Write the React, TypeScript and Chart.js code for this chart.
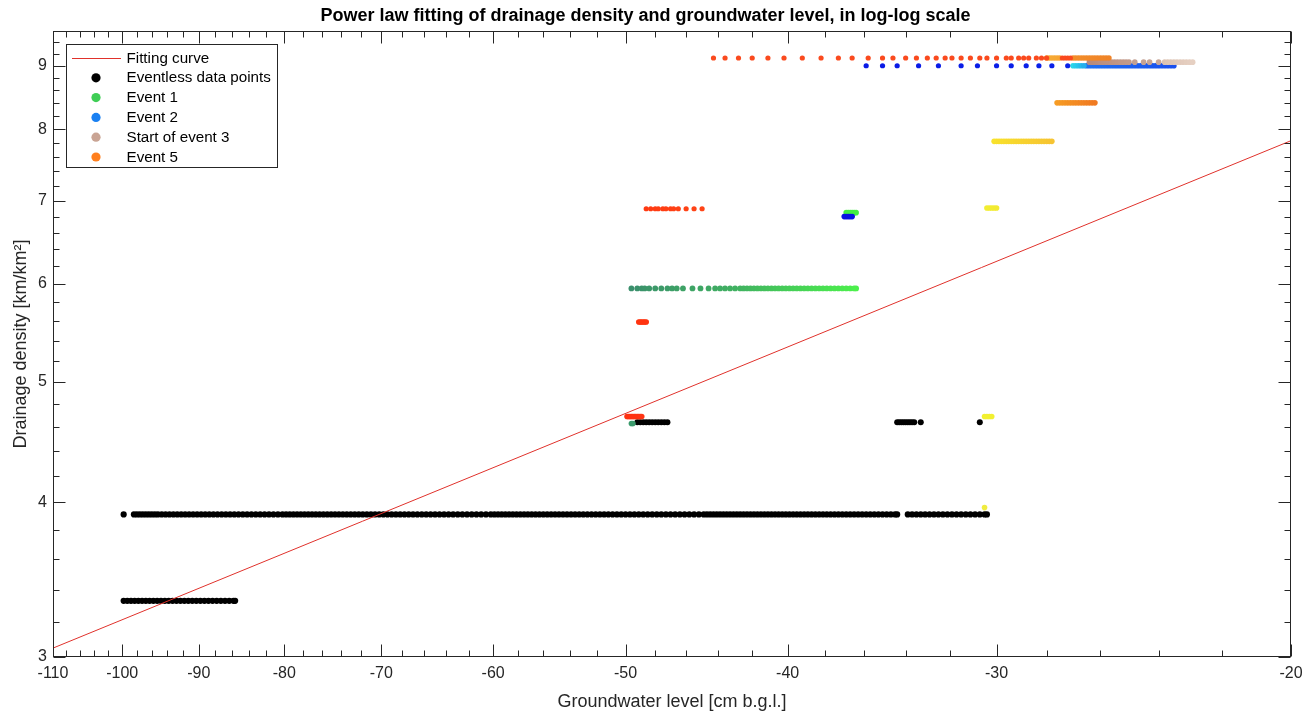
import React, { useEffect, useRef } from 'react';
import { Chart, registerables } from 'chart.js';

Chart.register(...registerables);

// ---------------- text ----------------
const chartTitle = 'Power law fitting of drainage density and groundwater level, in log-log scale';
const xTitle = 'Groundwater level [cm b.g.l.]';
const yTitle = 'Drainage density [km/km\u00B2]';

// ---------------- axis ticks ----------------
const xTickLabels = [-110, -100, -90, -80, -70, -60, -50, -40, -30, -20];
const yTickLabels = [3, 4, 5, 6, 7, 8, 9];

// ---------------- fitting curve ----------------
const fitX = [-110, -20];
const fitY = [3.05, 7.83];

// ---------------- eventless data points ----------------
const eventlessLowY = 3.33;
const eventlessLowX = [-99.8, -99.3, -98.8, -98.3, -97.8, -97.3, -96.8, -96.3, -95.8, -95.3, -94.8, -94.3, -93.8, -93.3,
  -92.8, -92.3, -91.8, -91.3, -90.8, -90.3, -89.8, -89.3, -88.8, -88.3, -87.8, -87.3, -86.8, -86.3, -85.8, -85.6];

const eventlessMidY = 3.91;
const eventlessMidX = [-99.8, -98.4, -98.0, -97.6, -97.2, -96.8, -96.4, -96.0, -95.6, -95.2,
  -94.7, -94.2, -93.7, -93.2, -92.7, -92.2, -91.7, -91.2, -90.7, -90.2, -89.7, -89.2, -88.7, -88.2, -87.7, -87.2,
  -86.7, -86.2, -85.7, -85.2, -84.7, -84.2, -83.7, -83.2, -82.7, -82.2, -81.7, -81.2, -80.7, -80.2,
  -79.8, -79.4, -79.0, -78.6, -78.2, -77.8, -77.4, -77.0, -76.6, -76.2, -75.8, -75.4, -75.0, -74.6, -74.2, -73.8,
  -73.4, -73.0, -72.6, -72.2, -71.8, -71.4, -71.0, -70.6, -70.2, -69.8, -69.4, -69.0, -68.6, -68.2, -67.8, -67.4,
  -67.0, -66.6, -66.2, -65.8, -65.4, -65.0, -64.6, -64.2, -63.8, -63.4, -63.0, -62.6, -62.2, -61.8, -61.4, -61.0,
  -60.6, -60.2, -59.9, -59.6, -59.3, -59.0, -58.7, -58.4, -58.1, -57.8, -57.5, -57.2, -56.9, -56.6, -56.3, -56.0,
  -55.7, -55.4, -55.1, -54.8, -54.5, -54.2, -53.9, -53.6, -53.3, -53.0, -52.7, -52.4, -52.1, -51.8, -51.5, -51.2,
  -50.9, -50.6, -50.3, -50.0, -49.7, -49.4, -49.1, -48.8, -48.5, -48.2, -47.9, -47.6, -47.3, -47.0, -46.7, -46.4,
  -46.1, -45.8, -45.5, -45.2, -44.9, -44.7, -44.5, -44.3, -44.1, -43.9, -43.7, -43.5, -43.3, -43.1, -42.9, -42.7,
  -42.5, -42.3, -42.1, -41.9, -41.7, -41.5, -41.3, -41.1, -40.9, -40.7, -40.5, -40.3, -40.1, -39.9, -39.7, -39.5,
  -39.3, -39.1, -38.9, -38.7, -38.5, -38.3, -38.1, -37.9, -37.7, -37.5, -37.3, -37.1, -36.9, -36.7, -36.5, -36.3,
  -36.1, -35.9, -35.7, -35.5, -35.3, -35.1, -34.9, -34.7, -34.5, -34.4,
  -33.9, -33.7, -33.5, -33.3, -33.1, -32.9, -32.7, -32.5, -32.3, -32.1, -31.9, -31.7, -31.5, -31.3, -31.1, -30.9,
  -30.7, -30.5, -30.4];

const eventlessHighY = 4.64;
const eventlessHighX = [-49.2, -49.0, -48.8, -48.6, -48.4, -48.2, -48.0, -47.8, -47.6, -47.4, -47.2,
  -34.4, -34.3, -34.2, -34.1, -34.0, -33.9, -33.8, -33.7, -33.6, -33.3, -30.7];

// ---------------- event 1 ----------------
const ev1RowY = 5.95;
const ev1RowX = [-49.6, -49.2, -48.9, -48.7, -48.4, -48.0, -47.6, -47.2, -46.9, -46.6, -46.2, -45.6, -45.1, -44.6,
  -44.2, -43.9, -43.6, -43.3, -43.0, -42.7, -42.5, -42.3, -42.1, -41.9, -41.7, -41.5, -41.3, -41.1, -40.9, -40.7,
  -40.5, -40.3, -40.1, -39.9, -39.7, -39.5, -39.3, -39.1, -38.9, -38.7, -38.5, -38.3, -38.1, -37.9, -37.7, -37.5,
  -37.3, -37.1, -36.9, -36.7, -36.5, -36.4];
const ev1LowY = 4.63;
const ev1LowX = [-49.6, -49.5];
const ev1HighY = 6.85;
const ev1HighX = [-36.9, -36.8, -36.7, -36.6, -36.5, -36.4];

// ---------------- event 2 ----------------
const ev2TopY = 9.0;
const ev2TopSparseX = [-35.9, -35.1, -34.4, -33.4, -32.5, -31.5, -30.8, -30.0, -29.4, -28.8, -28.3, -27.8, -27.2];
const ev2TopCyanX = [-27.0, -26.9, -26.8, -26.7, -26.6];
const ev2TopDenseX = [-26.5, -26.4, -26.3, -26.2, -26.1, -26.0, -25.9, -25.8, -25.7, -25.6, -25.5, -25.4, -25.3,
  -25.2, -25.1, -25.0, -24.9, -24.8, -24.7, -24.6, -24.5, -24.4, -24.3, -24.2, -24.1, -24.0, -23.9, -23.8, -23.7,
  -23.6, -23.5];
const ev2MidY = 6.8;
const ev2MidX = [-37.0, -36.9, -36.8, -36.7, -36.6];

// ---------------- start of event 3 ----------------
const ev3Y = 9.06;
const ev3DenseX = [-26.4, -26.3, -26.2, -26.1, -26.0, -25.9, -25.8, -25.7, -25.6, -25.5, -25.4, -25.3, -25.2, -25.1, -25.0];
const ev3DotsX = [-24.8, -24.5, -24.3, -24.0];
const ev3LightX = [-23.8, -23.7, -23.6, -23.5, -23.4, -23.3, -23.2, -23.1, -23.0, -22.9];

// ---------------- event 5 ----------------
const ev5TopY = 9.13;
const ev5TopDotsX = [-44.3, -43.6, -42.8, -42.0, -41.1, -40.2, -39.2, -38.2, -37.3, -36.6, -35.8, -35.1, -34.6, -34.0,
  -33.5, -33.0, -32.6, -32.2, -31.9, -31.5, -31.1, -30.7, -30.4, -30.0, -29.6, -29.4, -29.1, -28.9, -28.7, -28.4,
  -28.2, -28.0, -27.4, -27.3, -27.2, -27.1];
const ev5TopBandAX = [-28.0, -27.9, -27.8, -27.7, -27.6, -27.5];
const ev5TopBandBX = [-27.0, -26.9, -26.8, -26.7, -26.6, -26.5, -26.4, -26.3, -26.2, -26.1, -26.0, -25.9, -25.8, -25.7];
const ev5OrangeY = 8.4;
const ev5OrangeX = [-27.6, -27.5, -27.4, -27.3, -27.2, -27.1, -27.0, -26.9, -26.8, -26.7, -26.6, -26.5, -26.4, -26.3, -26.2];
const ev5YellowY = 7.82;
const ev5YellowX = [-30.1, -30.0, -29.9, -29.8, -29.7, -29.6, -29.5, -29.4, -29.3, -29.2, -29.1, -29.0, -28.9, -28.8,
  -28.7, -28.6, -28.5, -28.4, -28.3, -28.2, -28.1, -28.0, -27.9, -27.8];
const ev5Yellow2Y = 6.91;
const ev5Yellow2X = [-30.4, -30.3, -30.2, -30.1, -30.0];
const ev5Red69Y = 6.9;
const ev5Red69X = [-48.6, -48.3, -48.0, -47.8, -47.5, -47.3, -47.0, -46.8, -46.5, -46.0, -45.5, -45.0];
const ev5Red56Y = 5.59;
const ev5Red56X = [-49.1, -49.0, -48.9, -48.8, -48.7, -48.6];
const ev5Red47Y = 4.69;
const ev5Red47X = [-49.9, -49.8, -49.7, -49.6, -49.5, -49.4, -49.3, -49.2, -49.1, -49.0, -48.9];
const ev5Yellow47Y = 4.69;
const ev5Yellow47X = [-30.5, -30.4, -30.3, -30.2];
const ev5Yellow39Y = 3.96;
const ev5Yellow39X = [-30.5];

// ---------------- legend ----------------
const legendLabels = ['Fitting curve', 'Eventless data points', 'Event 1', 'Event 2', 'Start of event 3', 'Event 5'];
const legendColors = ['#e0312b', '#000000', '#3fcd55', '#1a80f2', '#c9a494', '#ff7f1e'];

// ---------------- styling helpers ----------------
const FONT = "'Liberation Sans', Arial, Helvetica, sans-serif";
const AXIS_COLOR = '#262626';

function hexToRgb(h: string) {
  const n = parseInt(h.slice(1), 16);
  return [(n >> 16) & 255, (n >> 8) & 255, n & 255];
}
function gradient(n: number, a: string, b: string) {
  const A = hexToRgb(a), B = hexToRgb(b);
  const out: string[] = [];
  for (let i = 0; i < n; i++) {
    const t = n > 1 ? i / (n - 1) : 0;
    out.push(`rgb(${Math.round(A[0] + (B[0] - A[0]) * t)},${Math.round(A[1] + (B[1] - A[1]) * t)},${Math.round(A[2] + (B[2] - A[2]) * t)})`);
  }
  return out;
}
function cluster(xs: number[], y: number, c1: string, c2: string, order: number, r = 2.8) {
  return {
    data: xs.map((x) => ({ x: -x, y })),
    pointBackgroundColor: gradient(xs.length, c1, c2),
    pointBorderWidth: 0,
    pointRadius: r,
    pointHoverRadius: r,
    showLine: false,
    order,
  };
}

const axesPlugin = {
  id: 'matlabAxes',
  afterDraw(chart: any) {
    const { ctx, chartArea: ca, scales } = chart;
    const xs = scales.x, ys = scales.y;
    ctx.save();
    ctx.strokeStyle = AXIS_COLOR;
    ctx.lineWidth = 1;
    const L = Math.round(ca.left) + 0.5, Rr = Math.round(ca.right) - 0.5;
    const T = Math.round(ca.top) + 0.5, B = Math.round(ca.bottom) - 0.5;
    ctx.strokeRect(L, T, Rr - L, B - T);
    ctx.beginPath();
    const xMajor = xTickLabels.map((v) => -v);
    const xMinor: number[] = [];
    for (let v = 22; v < 110; v += 2) if (v % 10 !== 0) xMinor.push(v);
    const yMinor: number[] = [];
    for (let k = 16; k < 48; k++) if (k % 5 !== 0) yMinor.push(k / 5);
    const xt = (v: number, len: number) => {
      const p = Math.round(xs.getPixelForValue(v)) + 0.5;
      ctx.moveTo(p, B); ctx.lineTo(p, B - len);
      ctx.moveTo(p, T); ctx.lineTo(p, T + len);
    };
    const yt = (v: number, len: number) => {
      const p = Math.round(ys.getPixelForValue(v)) + 0.5;
      ctx.moveTo(L, p); ctx.lineTo(L + len, p);
      ctx.moveTo(Rr, p); ctx.lineTo(Rr - len, p);
    };
    xMajor.forEach((v) => xt(v, 12));
    xMinor.forEach((v) => xt(v, 6));
    yTickLabels.forEach((v) => yt(v, 12));
    yMinor.forEach((v) => yt(v, 6));
    ctx.stroke();

    // legend
    const bx = 66.5, by = 44.5, bw = 211, bh = 123;
    ctx.fillStyle = '#ffffff';
    ctx.fillRect(bx, by, bw, bh);
    ctx.strokeStyle = AXIS_COLOR;
    ctx.strokeRect(bx, by, bw, bh);
    ctx.font = `15.2px ${FONT}`;
    ctx.textBaseline = 'middle';
    ctx.textAlign = 'left';
    legendLabels.forEach((lab, i) => {
      const cy = 58 + i * 19.8;
      if (i === 0) {
        ctx.strokeStyle = legendColors[i];
        ctx.beginPath();
        ctx.moveTo(72, cy + 0.5); ctx.lineTo(121, cy + 0.5);
        ctx.stroke();
      } else {
        ctx.fillStyle = legendColors[i];
        ctx.beginPath();
        ctx.arc(96, cy, 4.6, 0, Math.PI * 2);
        ctx.fill();
      }
      ctx.fillStyle = '#000000';
      ctx.fillText(lab, 126.5, cy + 0.5);
    });
    ctx.restore();
  },
};

export default function App() {
  const ref = useRef<HTMLCanvasElement | null>(null);
  useEffect(() => {
    if (!ref.current) return;
    const datasets: any[] = [
      {
        data: fitX.map((x, i) => ({ x: -x, y: fitY[i] })),
        showLine: true,
        borderColor: '#e0312b',
        borderWidth: 1,
        pointRadius: 0,
        order: 0,
      },
      // event 5
      cluster(ev5TopDotsX, ev5TopY, '#fa4a1e', '#fa4a1e', 1, 2.6),
      cluster(ev5TopBandAX, ev5TopY, '#f6ad35', '#f6a533', 1),
      cluster(ev5TopBandBX, ev5TopY, '#f28e2a', '#f08428', 1),
      cluster(ev5OrangeX, ev5OrangeY, '#f69c24', '#f07a22', 1),
      cluster(ev5YellowX, ev5YellowY, '#f8e22c', '#f6c432', 1),
      cluster(ev5Yellow2X, ev5Yellow2Y, '#f2ee32', '#f2ea32', 1),
      cluster(ev5Red69X, ev5Red69Y, '#ff3a12', '#ff4416', 1, 2.6),
      cluster(ev5Red56X, ev5Red56Y, '#ff3410', '#ff3410', 1),
      cluster(ev5Red47X, ev5Red47Y, '#ff3010', '#ff3414', 1),
      cluster(ev5Yellow47X, ev5Yellow47Y, '#f2f030', '#f2f030', 1),
      cluster(ev5Yellow39X, ev5Yellow39Y, '#f0ec40', '#f0ec40', 1),
      // start of event 3
      cluster(ev3DenseX, ev3Y, '#b88a7a', '#c29a8a', 2),
      cluster(ev3DotsX, ev3Y, '#c3a092', '#c8a698', 2),
      cluster(ev3LightX, ev3Y, '#dcc2b2', '#e6d0c2', 2),
      // event 2
      cluster(ev2TopSparseX, ev2TopY, '#0a1ae6', '#0a22e8', 3, 2.6),
      cluster(ev2TopCyanX, ev2TopY, '#2ad8ea', '#24b0ec', 3),
      cluster(ev2TopDenseX, ev2TopY, '#1f70f0', '#1a50ee', 3),
      cluster(ev2MidX, ev2MidY, '#0a12e2', '#0a12e2', 3),
      // event 1
      cluster(ev1RowX, ev1RowY, '#3a8f6c', '#4cf04c', 4, 2.9),
      cluster(ev1LowX, ev1LowY, '#3a9a6c', '#3a9a6c', 4),
      cluster(ev1HighX, ev1HighY, '#44ee44', '#44ee44', 4),
      // eventless
      cluster(eventlessLowX, eventlessLowY, '#000000', '#000000', 5, 3.1),
      cluster(eventlessMidX, eventlessMidY, '#000000', '#000000', 5, 3.1),
      cluster(eventlessHighX, eventlessHighY, '#000000', '#000000', 5, 3.0),
    ];

    const chart = new Chart(ref.current, {
      type: 'scatter',
      data: { datasets },
      plugins: [axesPlugin],
      options: {
        animation: false,
        responsive: false,
        devicePixelRatio: 1,
        events: [],
        layout: { padding: { left: 0, right: 25, top: 0, bottom: 0 } },
        plugins: {
          legend: { display: false },
          tooltip: { enabled: false },
          title: {
            display: true,
            text: chartTitle,
            color: '#000000',
            font: { family: FONT, size: 18, weight: 'bold' },
            padding: { top: 5, bottom: 4.4 },
          },
        },
        scales: {
          x: {
            type: 'logarithmic',
            reverse: true,
            min: 20,
            max: 110,
            grid: { display: false, drawTicks: false },
            border: { display: false },
            afterBuildTicks: (s: any) => {
              s.ticks = xTickLabels.map((v) => ({ value: -v }));
            },
            afterFit: (s: any) => {
              s.height = 56;
            },
            ticks: {
              autoSkip: false,
              maxRotation: 0,
              minRotation: 0,
              padding: 7,
              color: AXIS_COLOR,
              font: { family: FONT, size: 16 },
              callback: (v: any) => String(-Number(v)),
            },
            title: {
              display: true,
              text: xTitle,
              color: AXIS_COLOR,
              font: { family: FONT, size: 18 },
              padding: { top: 0, bottom: 0.5 },
            },
          },
          y: {
            type: 'logarithmic',
            min: 3,
            max: 9.6,
            grid: { display: false, drawTicks: false },
            border: { display: false },
            afterBuildTicks: (s: any) => {
              s.ticks = yTickLabels.map((v) => ({ value: v }));
            },
            afterFit: (s: any) => {
              s.width = 53;
            },
            ticks: {
              autoSkip: false,
              padding: 6,
              color: AXIS_COLOR,
              font: { family: FONT, size: 16 },
              callback: (v: any) => String(v),
            },
            title: {
              display: true,
              text: yTitle,
              color: AXIS_COLOR,
              font: { family: FONT, size: 18 },
              padding: { top: 10, bottom: 0 },
            },
          },
        },
      } as any,
    });
    return () => chart.destroy();
  }, []);

  return (
    <div style={{ position: 'fixed', left: 0, top: 0, width: 1316, height: 713, background: '#ffffff' }}>
      <canvas ref={ref} width={1316} height={713} style={{ display: 'block', width: 1316, height: 713 }} />
    </div>
  );
}
